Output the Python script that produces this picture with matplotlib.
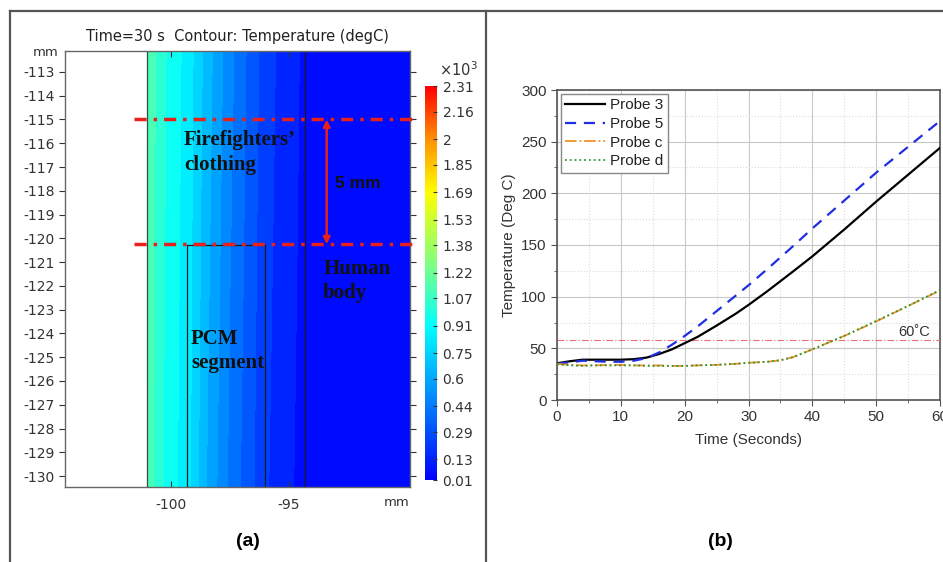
import numpy as np
import matplotlib
matplotlib.use("Agg")
import matplotlib.pyplot as plt
from matplotlib.colors import LinearSegmentedColormap, Normalize
from matplotlib.cm import ScalarMappable
from matplotlib.lines import Line2D

# ---------------- data: (a) temperature field, values in 10^3 degC
prof_x = [-101.0, -100.5, -100.0, -99.3, -98.5, -97.5, -96.5, -96.0, -95.0, -94.3, -92.0, -89.9]
prof_top = [1.16, 1.03, 0.95, 0.86, 0.68, 0.48, 0.31, 0.23, 0.13, 0.08, 0.04, 0.02]
prof_bot = [1.14, 1.01, 0.93, 0.84, 0.63, 0.43, 0.28, 0.20, 0.11, 0.07, 0.04, 0.02]
cb_ticks = [0.01, 0.13, 0.29, 0.44, 0.6, 0.75, 0.91, 1.07, 1.22, 1.38, 1.53, 1.69, 1.85, 2, 2.16, 2.31]
y_ticks_a = list(range(-130, -112))
x_ticks_a = [-100, -95]

# ---------------- data: (b) probe temperatures
t = [0, 2, 4, 6, 8, 10, 12, 14, 16, 18, 20, 22, 25, 28, 30, 33, 35, 37, 40, 45, 50, 55, 60]
probe3 = [35.5, 37.5, 39, 39, 39, 39, 39.5, 41, 44.5, 49, 55, 61, 72, 83.5, 92, 105.5, 115, 124.5, 139, 165, 192, 218, 244]
probe5 = [35, 36.5, 38, 37.5, 37, 37, 38, 40.5, 46, 53.5, 62, 71, 86, 101, 111, 127, 138, 149, 166, 193, 220, 245, 270]
probec = [35, 34, 33.5, 33.5, 34, 34, 33.5, 33.5, 33.5, 33, 33, 33.5, 34, 35, 36, 37, 38.5, 41.5, 49, 62, 76, 91, 106]
probed = [34.5, 33.5, 33, 33.5, 33.5, 33.5, 33.5, 33, 33, 33, 33, 33.5, 34, 35, 36, 37, 38.5, 41.5, 49, 62, 76.5, 91, 106.5]
limit_temp = 58

W, H = 943, 562
fig = plt.figure(figsize=(W / 100, H / 100), dpi=100)


def fx(px):
    return px / W


def fy(py):
    return 1 - py / H


# frame lines around the two panels
for xs, ys in [((10, W), (11, 11)), ((10, 10), (11, H)), ((486, 486), (11, H))]:
    fig.add_artist(Line2D([fx(x) for x in xs], [fy(y) for y in ys], color="#555555", lw=1.6))

# ================= panel (a)
ax = fig.add_axes([fx(65), fy(487), fx(410) - fx(65), fy(51) - fy(487)])
cmap = LinearSegmentedColormap.from_list(
    "rainbow_c",
    [(0.0, (0.0, 0.0, 1.0)), (0.39, (0.0, 1.0, 1.0)), (0.55, (0.5, 1.0, 0.5)),
     (0.73, (1.0, 1.0, 0.0)), (0.87, (1.0, 0.55, 0.0)), (1.0, (1.0, 0.0, 0.0))])
norm = Normalize(0.01, 2.31)

xlo, xhi = -104.49, -89.87
ylo, yhi = -130.46, -112.12
gx = np.linspace(-101.0, xhi, 300)
gy = np.linspace(ylo, yhi, 60)
X, Y = np.meshgrid(gx, gy)
top = np.interp(gx, prof_x, prof_top)
bot = np.interp(gx, prof_x, prof_bot)
frac = (gy - ylo) / (yhi - ylo)
Z = bot[None, :] + frac[:, None] * (top - bot)[None, :]
levels = np.linspace(0.01, 2.31, 27)
cf = ax.contourf(X, Y, Z, levels=levels, cmap=cmap, norm=norm)

# domain boundaries
kb = dict(color="#1a1a1a", lw=0.9)
ax.plot([-101.0, -101.0], [ylo, yhi], color="#2f4f4f", lw=0.9)
ax.plot([-94.3, -94.3], [ylo, yhi], **kb)
ax.plot([-99.3, -99.3, -96.0, -96.0], [ylo, -120.3, -120.3, ylo], **kb)

ax.set_xlim(xlo, xhi)
ax.set_ylim(ylo, yhi)
ax.set_yticks(y_ticks_a)
ax.set_xticks(x_ticks_a)
ax.set_xticklabels([str(v) for v in x_ticks_a])
ax.set_yticklabels([str(v) for v in y_ticks_a])
ax.tick_params(axis="y", direction="out", length=4, labelsize=10, colors="#333333", right=True)
ax.tick_params(axis="x", direction="in", length=4, labelsize=10, colors="#333333", top=True, pad=8)
for s in ax.spines.values():
    s.set_color("#666666")
    s.set_linewidth(1.0)

# red 5 mm markers
for yv in [-115.0, -120.25]:
    ax.plot([-101.57, -89.66], [yv, yv], color="#e8201c", lw=2.5,
            linestyle=(0, (3.5, 2, 1, 2)), clip_on=False, zorder=5)
ax.annotate("", xy=(-93.4, -115.0), xytext=(-93.4, -120.25),
            arrowprops=dict(arrowstyle="<|-|>", color="#e8201c", lw=1.8, mutation_scale=10,
                            shrinkA=0, shrinkB=0), zorder=6)

serif = dict(family="Liberation Serif", weight="bold", size=15, color="#111111")
ax.text(-99.45, -115.45, "Firefighters\u2019\nclothing", va="top", ha="left", linespacing=1.3, **serif)
ax.text(-93.05, -117.7, "5 mm", va="center", ha="left", family="Liberation Sans", weight="bold",
        size=12.5, color="#111111")
ax.text(-93.55, -120.85, "Human\nbody", va="top", ha="left", linespacing=1.3, **serif)
ax.text(-99.15, -123.8, "PCM\nsegment", va="top", ha="left", linespacing=1.3, **serif)

fig.text(fx(237), fy(37), "Time=30 s  Contour: Temperature (degC)", ha="center", va="center",
         size=10.5, color="#222222")
fig.text(fx(46), fy(52), "mm", ha="center", va="center", size=9.5, color="#333333")
fig.text(fx(397), fy(502), "mm", ha="center", va="center", size=9.5, color="#333333")

# colour bar
cax = fig.add_axes([fx(425), fy(480), fx(437) - fx(425), fy(86) - fy(480)])
cb = fig.colorbar(ScalarMappable(norm=norm, cmap=cmap), cax=cax, ticks=cb_ticks)
cb.ax.set_yticklabels([f"{v:g}" for v in cb_ticks])
cb.ax.tick_params(direction="in", length=3, labelsize=10, colors="#333333", pad=4)
cb.outline.set_visible(False)
fig.text(fx(458), fy(70), "\u00d710$^3$", ha="center", va="center", size=10.5, color="#333333")

fig.text(fx(248), fy(541), "(a)", ha="center", va="center", size=14, weight="bold",
         family="Liberation Sans")

# ================= panel (b)
ax2 = fig.add_axes([fx(557), fy(400), fx(940) - fx(557), fy(90) - fy(400)])
ax2.plot(t, probe3, color="black", lw=1.6, label="Probe 3", zorder=4)
ax2.plot(t, probe5, color="#1f2fe0", lw=1.6, linestyle=(0, (5, 3.5)), label="Probe 5", zorder=4)
ax2.plot(t, probec, color="#f0902a", lw=1.3, linestyle="-.", label="Probe c", zorder=4)
ax2.plot(t, probed, color="#2e9a2e", lw=1.3, linestyle=":", label="Probe d", zorder=5)
ax2.axhline(limit_temp, color="#e87070", lw=0.8, linestyle=(0, (6, 2, 1, 2)), zorder=3)
ax2.text(58.5, limit_temp + 1.5, "60\u02daC", ha="right", va="bottom", size=10.5,
         family="Liberation Sans", color="#333333")

ax2.set_xlim(0, 60)
ax2.set_ylim(0, 300)
ax2.set_xticks(range(0, 61, 10))
ax2.set_yticks(range(0, 301, 50))
ax2.set_xticks(range(5, 60, 10), minor=True)
ax2.set_yticks(range(25, 300, 50), minor=True)
ax2.grid(True, which="major", color="#c8c8c8", lw=0.8)
ax2.grid(True, which="minor", color="#dcdcdc", lw=0.8, linestyle=":")
ax2.set_axisbelow(True)
ax2.tick_params(which="major", direction="out", length=4, labelsize=11, colors="#555555",
                labelcolor="#333333")
ax2.tick_params(which="minor", direction="out", length=2.5, colors="#555555")
for lab in ax2.get_xticklabels() + ax2.get_yticklabels():
    lab.set_family("Liberation Sans")
for s in ax2.spines.values():
    s.set_color("#555555")
    s.set_linewidth(1.2)
ax2.set_xlabel("Time (Seconds)", family="Liberation Sans", size=11, color="#333333", labelpad=6)
ax2.set_ylabel("Temperature (Deg C)", family="Liberation Sans", size=11, color="#333333", labelpad=4)

leg = ax2.legend(loc="upper left", prop=dict(family="Liberation Sans", size=11),
                 handlelength=2.6, handletextpad=0.3, borderpad=0.3, labelspacing=0.3,
                 borderaxespad=0.25, fancybox=False, framealpha=1, edgecolor="#888888")
leg.get_frame().set_linewidth(1.0)
for txt in leg.get_texts():
    txt.set_color("#222222")

fig.text(fx(720), fy(541), "(b)", ha="center", va="center", size=14, weight="bold",
         family="Liberation Sans")

fig.savefig("out.png", dpi=100)
